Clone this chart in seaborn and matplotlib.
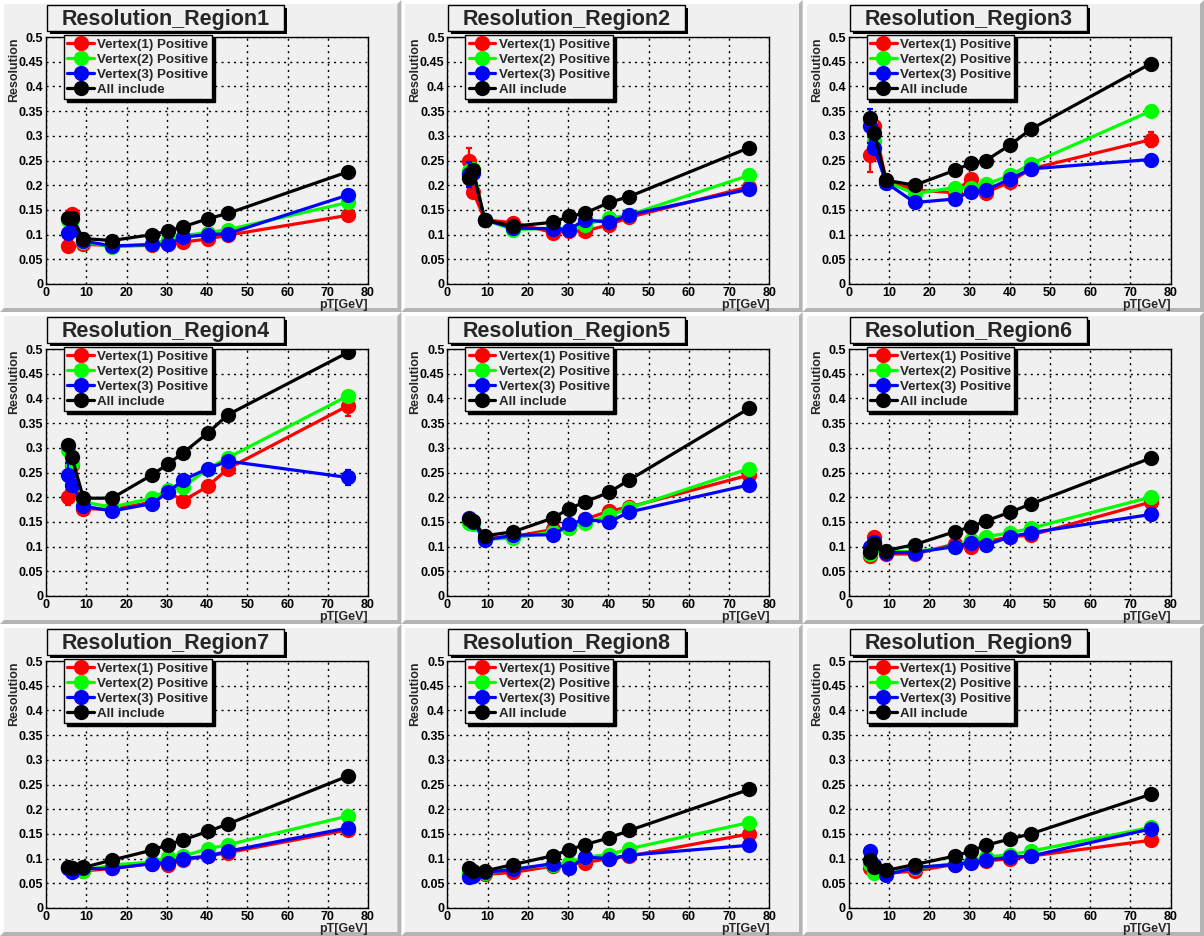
import matplotlib
matplotlib.use("Agg")
import matplotlib.pyplot as plt
from matplotlib.patches import Rectangle, Polygon
from matplotlib.ticker import MultipleLocator
import seaborn as sns

# ---------------- data ----------------
PT = [5.4, 6.4, 9.3, 16.4, 26.3, 30.3, 34.1, 40.2, 45.2, 75.0]
SERIES = ["Vertex(1) Positive", "Vertex(2) Positive", "Vertex(3) Positive", "All include"]
COLORS = ["#ff0000", "#00ff00", "#0000ff", "#000000"]
TITLES = ["Resolution_Region%d" % i for i in range(1, 10)]

R1_V1 = [0.076, 0.142, 0.081, 0.077, 0.078, 0.080, 0.085, 0.091, 0.099, 0.139]
R1_V2 = [0.130, 0.130, 0.085, 0.075, 0.080, 0.090, 0.098, 0.104, 0.110, 0.165]
R1_V3 = [0.104, 0.110, 0.087, 0.077, 0.080, 0.080, 0.095, 0.100, 0.102, 0.180]
R1_AL = [0.133, 0.133, 0.092, 0.088, 0.100, 0.107, 0.116, 0.132, 0.143, 0.227]

R2_V1 = [0.248, 0.187, 0.130, 0.124, 0.104, 0.107, 0.107, 0.120, 0.135, 0.197]
R2_V2 = [0.228, 0.232, 0.130, 0.110, 0.113, 0.110, 0.120, 0.133, 0.140, 0.220]
R2_V3 = [0.222, 0.225, 0.130, 0.113, 0.112, 0.110, 0.130, 0.125, 0.140, 0.192]
R2_AL = [0.215, 0.230, 0.130, 0.117, 0.125, 0.137, 0.143, 0.165, 0.177, 0.276]

R3_V1 = [0.262, 0.320, 0.210, 0.190, 0.185, 0.213, 0.185, 0.207, 0.233, 0.292]
R3_V2 = [0.330, 0.290, 0.207, 0.183, 0.195, 0.195, 0.202, 0.220, 0.243, 0.350]
R3_V3 = [0.320, 0.275, 0.205, 0.165, 0.172, 0.187, 0.190, 0.213, 0.233, 0.252]
R3_AL = [0.337, 0.305, 0.210, 0.200, 0.230, 0.244, 0.250, 0.282, 0.313, 0.446]

R4_V1 = [0.200, 0.265, 0.177, 0.175, 0.190, 0.210, 0.193, 0.222, 0.258, 0.385]
R4_V2 = [0.295, 0.270, 0.190, 0.180, 0.198, 0.215, 0.220, 0.258, 0.280, 0.405]
R4_V3 = [0.245, 0.225, 0.182, 0.172, 0.187, 0.210, 0.235, 0.258, 0.273, 0.240]
R4_AL = [0.305, 0.282, 0.198, 0.198, 0.245, 0.267, 0.290, 0.330, 0.367, 0.493]

R5_V1 = [0.152, 0.148, 0.118, 0.120, 0.135, 0.137, 0.155, 0.172, 0.180, 0.245]
R5_V2 = [0.148, 0.145, 0.115, 0.117, 0.130, 0.137, 0.148, 0.163, 0.178, 0.258]
R5_V3 = [0.158, 0.150, 0.113, 0.123, 0.124, 0.145, 0.155, 0.150, 0.170, 0.225]
R5_AL = [0.155, 0.152, 0.122, 0.130, 0.158, 0.177, 0.190, 0.210, 0.235, 0.380]

R6_V1 = [0.080, 0.120, 0.085, 0.085, 0.105, 0.100, 0.110, 0.120, 0.123, 0.190]
R6_V2 = [0.085, 0.100, 0.090, 0.090, 0.100, 0.113, 0.120, 0.128, 0.137, 0.200]
R6_V3 = [0.100, 0.110, 0.088, 0.088, 0.100, 0.108, 0.103, 0.120, 0.128, 0.165]
R6_AL = [0.090, 0.105, 0.092, 0.104, 0.130, 0.140, 0.152, 0.170, 0.186, 0.279]

R7_V1 = [0.080, 0.080, 0.075, 0.080, 0.090, 0.087, 0.097, 0.105, 0.112, 0.158]
R7_V2 = [0.080, 0.078, 0.075, 0.087, 0.093, 0.103, 0.105, 0.120, 0.128, 0.186]
R7_V3 = [0.080, 0.072, 0.080, 0.080, 0.090, 0.092, 0.100, 0.105, 0.115, 0.162]
R7_AL = [0.083, 0.080, 0.082, 0.097, 0.117, 0.128, 0.138, 0.155, 0.170, 0.267]

R8_V1 = [0.070, 0.070, 0.068, 0.072, 0.085, 0.090, 0.092, 0.100, 0.105, 0.150]
R8_V2 = [0.072, 0.070, 0.070, 0.080, 0.087, 0.092, 0.103, 0.108, 0.120, 0.173]
R8_V3 = [0.063, 0.065, 0.072, 0.078, 0.090, 0.080, 0.103, 0.100, 0.107, 0.127]
R8_AL = [0.080, 0.075, 0.075, 0.088, 0.106, 0.118, 0.128, 0.142, 0.157, 0.240]

R9_V1 = [0.080, 0.075, 0.070, 0.075, 0.088, 0.093, 0.095, 0.100, 0.105, 0.137]
R9_V2 = [0.090, 0.070, 0.072, 0.080, 0.090, 0.095, 0.103, 0.108, 0.115, 0.163]
R9_V3 = [0.115, 0.088, 0.067, 0.082, 0.088, 0.092, 0.097, 0.103, 0.105, 0.160]
R9_AL = [0.098, 0.082, 0.076, 0.088, 0.105, 0.115, 0.127, 0.140, 0.150, 0.230]

REGIONS = [
    [R1_V1, R1_V2, R1_V3, R1_AL], [R2_V1, R2_V2, R2_V3, R2_AL], [R3_V1, R3_V2, R3_V3, R3_AL],
    [R4_V1, R4_V2, R4_V3, R4_AL], [R5_V1, R5_V2, R5_V3, R5_AL], [R6_V1, R6_V2, R6_V3, R6_AL],
    [R7_V1, R7_V2, R7_V3, R7_AL], [R8_V1, R8_V2, R8_V3, R8_AL], [R9_V1, R9_V2, R9_V3, R9_AL],
]

# visible error bars: (region index, series index, point index, error)
ERRORS = [
    (0, 0, 0, 0.008), (0, 0, 1, 0.010),
    (1, 0, 0, 0.028), (1, 2, 0, 0.025),
    (2, 0, 0, 0.035), (2, 2, 0, 0.035), (2, 0, 1, 0.020), (2, 0, 9, 0.015),
    (3, 0, 0, 0.015), (3, 2, 0, 0.025), (3, 0, 9, 0.020), (3, 2, 9, 0.015),
]

# ---------------- style ----------------
sns.set_style("white")
plt.rcParams["font.family"] = ["Liberation Sans", "DejaVu Sans"]
plt.rcParams["font.weight"] = "bold"
plt.rcParams["axes.labelweight"] = "bold"

W, H = 1204, 936
PAD = "#f0f0f0"
fig = plt.figure(figsize=(W / 100, H / 100), dpi=100)
fig.patch.set_facecolor("white")


def fx(px):
    return px / W


def fy(py):
    return 1 - py / H


PW, PH = W / 3, H / 3
for i in range(9):
    r, c = divmod(i, 3)
    x0, y0 = c * PW, r * PH
    # pad bevel
    b = 4
    fig.patches.append(Rectangle((fx(x0), fy(y0 + PH)), PW / W, PH / H,
                                 transform=fig.transFigure, facecolor="white",
                                 edgecolor="none", zorder=-10))
    dark = Polygon([(fx(x0 + PW), fy(y0)), (fx(x0 + PW), fy(y0 + PH)), (fx(x0), fy(y0 + PH)),
                    (fx(x0 + b), fy(y0 + PH - b)), (fx(x0 + PW - b), fy(y0 + PH - b)),
                    (fx(x0 + PW - b), fy(y0 + b))],
                   closed=True, transform=fig.transFigure, facecolor="#b4b4b4",
                   edgecolor="none", zorder=-9)
    fig.patches.append(dark)
    fig.patches.append(Rectangle((fx(x0 + b), fy(y0 + PH - b)), (PW - 2 * b) / W, (PH - 2 * b) / H,
                                 transform=fig.transFigure, facecolor=PAD,
                                 edgecolor="none", zorder=-8))

    # axes frame
    ax_l, ax_r, ax_t, ax_b = x0 + 46, x0 + 368, y0 + 37, y0 + 284
    ax = fig.add_axes([fx(ax_l), fy(ax_b), (ax_r - ax_l) / W, (ax_b - ax_t) / H])
    ax.set_facecolor(PAD)

    for s, (vals, col, lab) in enumerate(zip(REGIONS[i], COLORS, SERIES)):
        for (ri, si, pi, e) in ERRORS:
            if ri == i and si == s:
                ax.errorbar([PT[pi]], [vals[pi]], yerr=[e], fmt="none", ecolor=col,
                            elinewidth=1.6, capsize=2.2, capthick=1.6, zorder=2 + s)
        sns.lineplot(x=PT, y=vals, ax=ax, color=col, marker="o", markersize=11,
                     markeredgewidth=0, linewidth=2.3, label=lab, zorder=3 + s)

    ax.set_xlim(0, 80)
    ax.set_ylim(0, 0.5)
    ax.xaxis.set_major_locator(MultipleLocator(10))
    ax.xaxis.set_minor_locator(MultipleLocator(2))
    ax.yaxis.set_major_locator(MultipleLocator(0.05))
    ax.yaxis.set_minor_locator(MultipleLocator(0.01))
    ax.yaxis.set_major_formatter(matplotlib.ticker.FuncFormatter(
        lambda v, p: ("%g" % round(v, 2))))
    ax.tick_params(axis="both", which="both", direction="in", top=False, right=False,
                   colors="black", labelsize=9, width=1)
    ax.tick_params(axis="y", which="major", length=7, pad=2)
    ax.tick_params(axis="y", which="minor", length=3.5)
    ax.tick_params(axis="x", which="major", length=5, pad=2)
    ax.tick_params(axis="x", which="minor", length=2.5)
    ax.grid(True, which="major", color="black", linestyle=(0, (1.5, 3)), linewidth=1)
    for sp in ax.spines.values():
        sp.set_visible(True)
        sp.set_color("black")
        sp.set_linewidth(1)

    ax.set_xlabel("pT[GeV]", fontsize=9, loc="right", labelpad=0)
    ax.set_ylabel("Resolution", fontsize=9, loc="top")
    ax.yaxis.set_label_coords(-0.08, 1.0)

    leg = ax.legend(loc="upper left", bbox_to_anchor=(fx(x0 + 64), fy(y0 + 35)),
                    bbox_transform=fig.transFigure, borderaxespad=0, frameon=True,
                    fancybox=False, shadow={"facecolor": "black", "edgecolor": "black", "alpha": 1},
                    fontsize=9.6, handlelength=2.0, handletextpad=0.25, borderpad=0.25,
                    labelspacing=0.2, framealpha=1)
    leg.get_frame().set_facecolor(PAD)
    leg.get_frame().set_edgecolor("black")
    leg.get_frame().set_linewidth(1)
    for t in leg.get_texts():
        t.set_fontweight("bold")

    # title box with shadow
    tl, tr, tt, tb = x0 + 47, x0 + 284, y0 + 5, y0 + 31
    sh = 3
    fig.patches.append(Rectangle((fx(tl + sh), fy(tb + sh)), (tr - tl) / W, (tb - tt) / H,
                                 transform=fig.transFigure, facecolor="black",
                                 edgecolor="none", zorder=5))
    fig.patches.append(Rectangle((fx(tl), fy(tb)), (tr - tl) / W, (tb - tt) / H,
                                 transform=fig.transFigure, facecolor=PAD,
                                 edgecolor="black", linewidth=1, zorder=6))
    fig.text(fx((tl + tr) / 2), fy((tt + tb) / 2 + 1), TITLES[i], ha="center", va="center",
             fontsize=15.5, fontweight="bold", zorder=7)

fig.savefig("out.png", dpi=100, facecolor=fig.get_facecolor())
